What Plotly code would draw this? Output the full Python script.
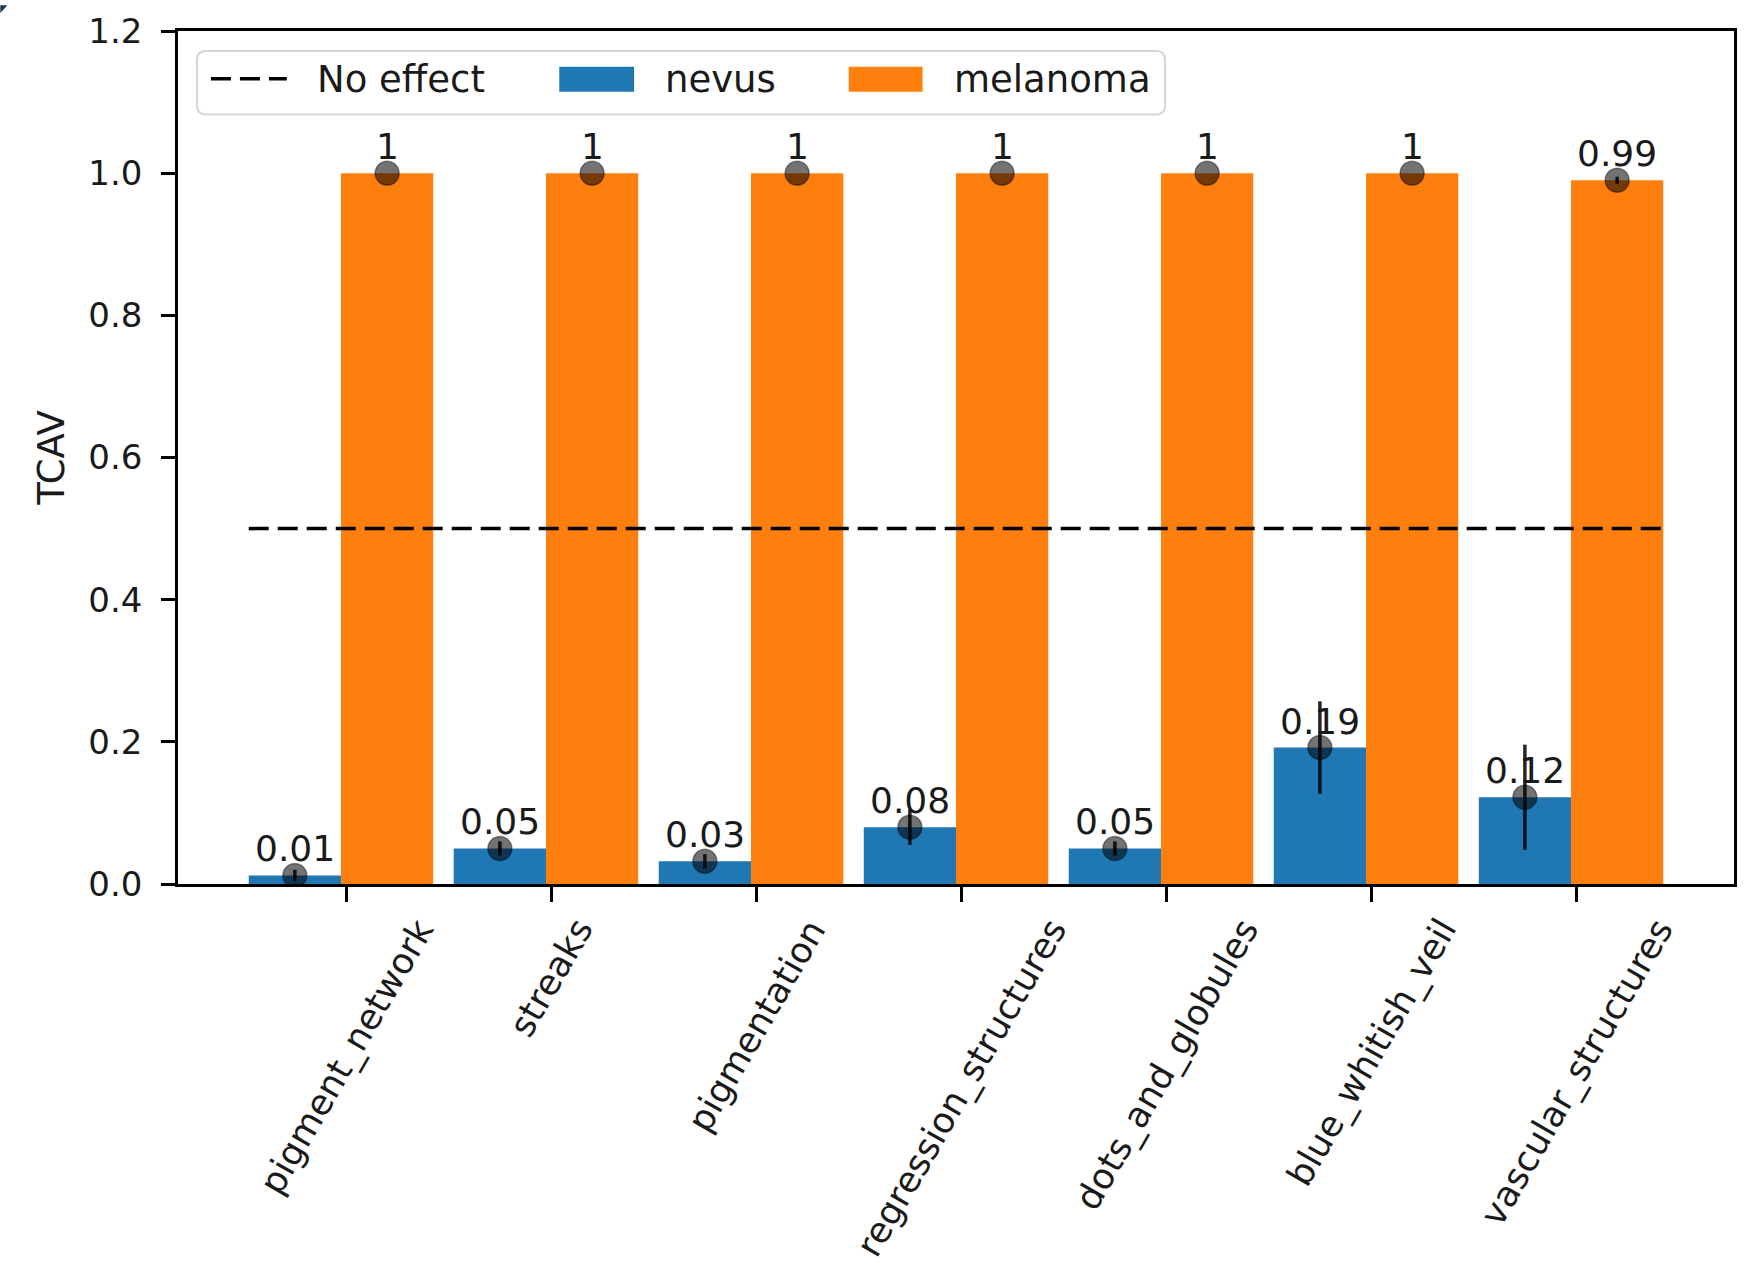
import plotly.graph_objects as go

# ---------------- data ----------------
categories = ["pigment_network", "streaks", "pigmentation", "regression_structures",
              "dots_and_globules", "blue_whitish_veil", "vascular_structures"]
nevus = [0.012, 0.05, 0.032, 0.08, 0.05, 0.192, 0.122]
nevus_err = [0.008, 0.01, 0.01, 0.025, 0.01, 0.065, 0.074]
nevus_labels = ["0.01", "0.05", "0.03", "0.08", "0.05", "0.19", "0.12"]
melanoma = [1.0, 1.0, 1.0, 1.0, 1.0, 1.0, 0.99]
melanoma_err = [0.0, 0.0, 0.0, 0.0, 0.0, 0.0, 0.005]
melanoma_labels = ["1", "1", "1", "1", "1", "1", "0.99"]
no_effect = 0.5
y_ticks = [0.0, 0.2, 0.4, 0.6, 0.8, 1.0, 1.2]

# ---------------- style ----------------
W, H = 1748, 1273
ML, MR, MT, MB = 178, 11, 26, 389
PW, PH = W - ML - MR, H - MT - MB
BAR_W = 0.45
TICK_OFF = 0.025
FONT = "DejaVu Sans"
TXT = "#1a1a1a"
BLUE = "#1f77b4"
ORANGE = "#ff7f0e"
FS = 37

n = len(categories)
groups = list(range(n))
x_nev = [g - BAR_W / 2 for g in groups]
x_mel = [g + BAR_W / 2 for g in groups]
x_lo = x_nev[0] - BAR_W / 2
x_hi = x_mel[-1] + BAR_W / 2
margin = 0.05 * (x_hi - x_lo)


def px_x(p):
    return (p - ML) / PW


def px_y(p):
    return (MT + PH - p) / PH


fig = go.Figure()

fig.add_trace(go.Bar(x=x_nev, y=nevus, width=BAR_W, marker=dict(color=BLUE, line=dict(width=0)),
                     name="nevus", showlegend=False))
fig.add_trace(go.Bar(x=x_mel, y=melanoma, width=BAR_W, marker=dict(color=ORANGE, line=dict(width=0)),
                     name="melanoma", showlegend=False))

fig.add_trace(go.Scatter(x=[x_lo, x_hi], y=[no_effect, no_effect], mode="lines",
                         line=dict(color="black", width=3.5, dash="20px,9px"),
                         name="No effect", showlegend=False))

for xs, ys, es in [(x_nev, nevus, nevus_err), (x_mel, melanoma, melanoma_err)]:
    fig.add_trace(go.Scatter(
        x=xs, y=ys, mode="markers",
        marker=dict(size=24, color="rgba(0,0,0,0.55)", line=dict(color="rgba(0,0,0,0.4)", width=1.5)),
        error_y=dict(type="data", array=es, visible=True, color="rgba(0,0,0,0.85)", thickness=3.5, width=0),
        showlegend=False, hoverinfo="skip"))

annotations = []
for xs, ys, labs in [(x_nev, nevus, nevus_labels), (x_mel, melanoma, melanoma_labels)]:
    for xv, yv, lab in zip(xs, ys, labs):
        annotations.append(dict(x=xv, y=yv, xref="x", yref="y", text=lab, showarrow=False,
                                xanchor="center", yanchor="bottom", yshift=4,
                                font=dict(family=FONT, size=36, color=TXT)))

for g, cat in zip(groups, categories):
    annotations.append(dict(x=g + TICK_OFF, y=0, xref="x", yref="paper", text=cat, showarrow=False,
                            xanchor="center", yanchor="top", textangle=-60, yshift=-25,
                            font=dict(family=FONT, size=35.5, color=TXT)))

# ---------------- legend (drawn manually, matplotlib style) ----------------
shapes = []
lx0, lx1, ly0, ly1, r = 197, 1167, 46, 110, 9
path = (f"M {px_x(lx0 + r)},{px_y(ly0)} L {px_x(lx1 - r)},{px_y(ly0)} "
        f"Q {px_x(lx1)},{px_y(ly0)} {px_x(lx1)},{px_y(ly0 + r)} "
        f"L {px_x(lx1)},{px_y(ly1 - r)} Q {px_x(lx1)},{px_y(ly1)} {px_x(lx1 - r)},{px_y(ly1)} "
        f"L {px_x(lx0 + r)},{px_y(ly1)} Q {px_x(lx0)},{px_y(ly1)} {px_x(lx0)},{px_y(ly1 - r)} "
        f"L {px_x(lx0)},{px_y(ly0 + r)} Q {px_x(lx0)},{px_y(ly0)} {px_x(lx0 + r)},{px_y(ly0)} Z")
shapes.append(dict(type="path", path=path, xref="paper", yref="paper", layer="above",
                   fillcolor="rgba(255,255,255,0.8)", line=dict(color="#d6d6d6", width=2)))
cy = 75
shapes.append(dict(type="line", xref="paper", yref="paper", layer="above",
                   x0=px_x(211), x1=px_x(287), y0=px_y(cy - 1), y1=px_y(cy - 1),
                   line=dict(color="black", width=3.5, dash="20px,9px")))
shapes.append(dict(type="rect", xref="paper", yref="paper", layer="above",
                   x0=px_x(560), x1=px_x(635), y0=px_y(62), y1=px_y(87),
                   fillcolor=BLUE, line=dict(width=0)))
shapes.append(dict(type="rect", xref="paper", yref="paper", layer="above",
                   x0=px_x(850), x1=px_x(924), y0=px_y(62), y1=px_y(87),
                   fillcolor=ORANGE, line=dict(width=0)))
for tx, lab in [(315, "No effect"), (664, "nevus"), (953, "melanoma")]:
    annotations.append(dict(x=px_x(tx), y=px_y(cy), xref="paper", yref="paper", text=lab,
                            showarrow=False, xanchor="left", yanchor="middle",
                            font=dict(family=FONT, size=FS, color=TXT)))

# small dark corner artifact at the top-left
shapes.append(dict(type="path", xref="paper", yref="paper", layer="above",
                   path=f"M {px_x(0)},{px_y(0)} L {px_x(7)},{px_y(0)} L {px_x(0)},{px_y(8)} Z",
                   fillcolor="#1d3550", line=dict(width=0)))

fig.update_layout(
    width=W, height=H,
    margin=dict(l=ML, r=MR, t=MT, b=MB, pad=0),
    paper_bgcolor="white", plot_bgcolor="white",
    barmode="overlay",
    font=dict(family=FONT, size=FS, color=TXT),
    showlegend=False,
    annotations=annotations,
    shapes=shapes,
)

fig.update_xaxes(range=[x_lo - margin, x_hi + margin], tickvals=[g + TICK_OFF for g in groups],
                 ticktext=[""] * n, ticks="outside", ticklen=15, tickwidth=2.5, tickcolor="black",
                 showline=True, linecolor="black", linewidth=2.5, mirror=True,
                 showgrid=False, zeroline=False)
fig.update_yaxes(range=[0, 1.2], tickvals=y_ticks, ticktext=[f"{v:.1f}" for v in y_ticks],
                 ticks="outside", ticklen=14, tickwidth=2.5, tickcolor="black",
                 ticklabelstandoff=12,
                 tickfont=dict(family=FONT, size=34, color=TXT),
                 showline=True, linecolor="black", linewidth=2.5, mirror=True,
                 showgrid=False, zeroline=False,
                 title=dict(text="TCAV", standoff=13, font=dict(family=FONT, size=FS, color=TXT)))

fig.write_html("out.html")
